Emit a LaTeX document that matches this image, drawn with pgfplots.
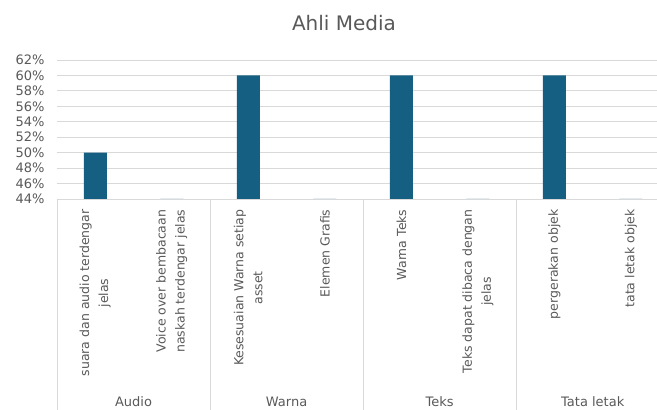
\documentclass[border=0pt]{standalone}
\usepackage{fontspec}
\setmainfont{DejaVu Sans}
\usepackage{pgfplots}
\pgfplotsset{compat=1.18}
\definecolor{barc}{HTML}{156082}
\definecolor{txt}{HTML}{595959}
\definecolor{gridc}{HTML}{D9D9D9}
\begin{document}
\begin{tikzpicture}[x=1pt,y=1pt]
\path[use as bounding box] (0,0) rectangle (657,410);
\node[text=txt, font=\fontsize{20}{24}\selectfont] at (344,387) {Ahli Media};
\begin{axis}[
  at={(57pt,211pt)}, anchor=south west, scale only axis,
  width=600pt, height=139pt,
  xmin=-0.5, xmax=7.34, ymin=44, ymax=62,
  ytick={44,46,48,50,52,54,56,58,60,62},
  yticklabel={\pgfmathprintnumber{\tick}\%},
  /pgf/number format/assume math mode=true,
  yticklabel style={text=txt, font=\fontsize{13}{15}\selectfont},
  yticklabel shift=9pt,
  axis line style={draw=none},
  ymajorgrids, grid style={gridc, line width=0.9pt},
  major tick length=0,
  xtick={0,1,2,3,4,5,6,7},
  xticklabels={{suara dan audio terdengar\\jelas},{Voice over bembacaan\\naskah terdengar jelas},{Kesesuaian Warna setiap\\asset},{Elemen Grafis},{Warna Teks},{Teks dapat dibaca dengan\\jelas},{pergerakan objek},{tata letak objek}},
  xticklabel style={rotate=90, anchor=east, align=center, text=txt, font=\fontsize{12.5}{19}\selectfont},
  xticklabel shift=7pt,
  clip mode=individual,
]
\addplot[ybar, fill=barc, draw=none, bar width=23pt] coordinates {(0,50) (1,40) (2,60) (3,40) (4,60) (5,40) (6,60) (7,40)};
\draw[gridc, line width=0.9pt] (axis cs:-0.5,44) -- (axis cs:7.34,44);
\pgfplotsinvokeforeach{-0.5,1.5,3.5,5.5}{
  \draw[gridc, line width=0.9pt] (axis cs:#1,44) -- ([yshift=-215pt]axis cs:#1,44);
}
\node[text=txt, font=\fontsize{13}{15}\selectfont] at (axis cs:0.5,44) [yshift=-203pt] {Audio};
\node[text=txt, font=\fontsize{13}{15}\selectfont] at (axis cs:2.5,44) [yshift=-203pt] {Warna};
\node[text=txt, font=\fontsize{13}{15}\selectfont] at (axis cs:4.5,44) [yshift=-203pt] {Teks};
\node[text=txt, font=\fontsize{13}{15}\selectfont] at (axis cs:6.5,44) [yshift=-203pt] {Tata letak};
\end{axis}
\end{tikzpicture}
\end{document}
